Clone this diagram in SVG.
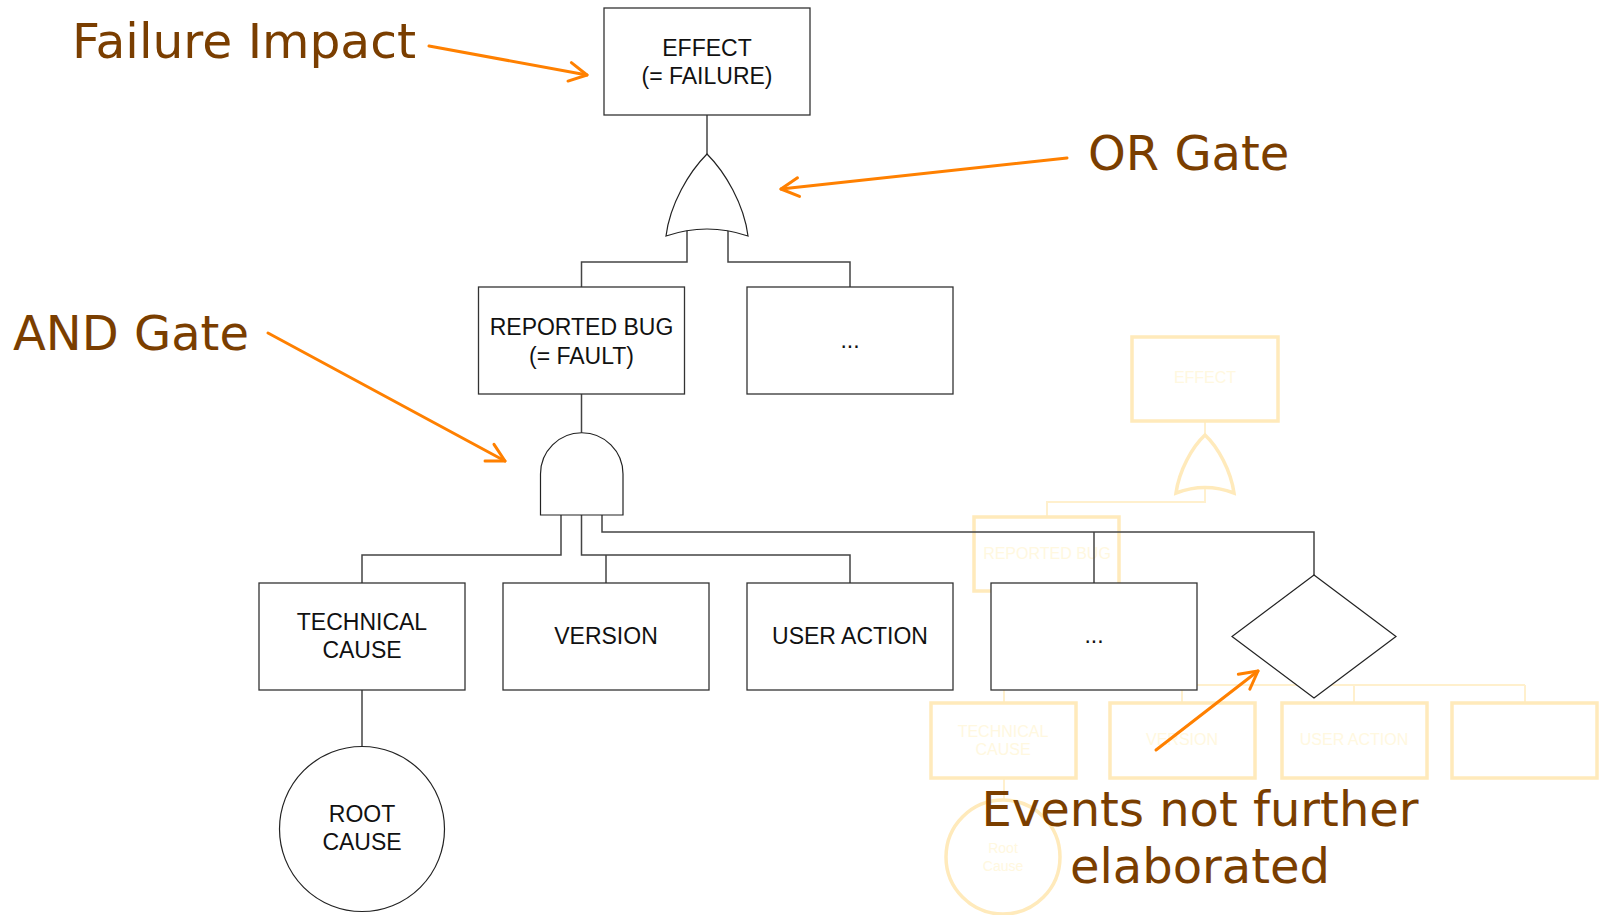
<svg xmlns="http://www.w3.org/2000/svg" width="1602" height="915" viewBox="0 0 1602 915">
<style>
.box{fill:#fff;stroke:#333;stroke-width:1.3}
.gate{fill:#fff;stroke:#222;stroke-width:1.2}
.con{fill:none;stroke:#444;stroke-width:1.5}
.t{font-family:"Liberation Sans",Arial,sans-serif;font-size:23px;fill:#111;text-anchor:middle}
.lbl{font-family:"DejaVu Sans",Verdana,sans-serif;font-size:48px;fill:#7a3e00}
.arr{fill:none;stroke:#ff8000;stroke-width:3;stroke-linecap:round;marker-end:url(#ah)}
.fbox{fill:none;stroke:#ffeabb;stroke-width:3.5}
.fcon{fill:none;stroke:#fff0cd;stroke-width:2}
.ft{font-family:"Liberation Sans",Arial,sans-serif;font-size:16px;fill:#fff8e0;text-anchor:middle}
</style>
<defs>
<marker id="ah" viewBox="-20 -12 24 24" refX="0" refY="0" markerWidth="24" markerHeight="24" markerUnits="userSpaceOnUse" orient="auto" overflow="visible">
<path d="M-17.6,-9.4 L0,0 L-17.6,9.4" fill="none" stroke="#ff8000" stroke-width="3" stroke-linecap="round" stroke-linejoin="round"/>
</marker>
</defs>
<rect width="1602" height="915" fill="#fff"/>

<g id="faint-tree">
<path class="fcon" d="M1205,421 V435 M1205,488 V502 H1047 V517 M1004,685 H1525 M1004,685 V703 M1182,685 V703 M1354,685 V703 M1525,685 V703 M1004,778 V800"/>
<rect class="fbox" x="1132" y="337" width="146" height="84"/>
<text class="ft" x="1205" y="383">EFFECT</text>
<path class="fbox" d="M1176,493 C1179,471 1192,447 1205,435 C1218,447 1231,471 1234,493 Q1205,482 1176,493 Z"/>
<rect class="fbox" x="974" y="517" width="145" height="74"/>
<text class="ft" x="1047" y="559">REPORTED BUG</text>
<rect class="fbox" x="931" y="703" width="145" height="75"/>
<text class="ft" x="1003" y="737">TECHNICAL</text>
<text class="ft" x="1003" y="755">CAUSE</text>
<rect class="fbox" x="1110" y="703" width="145" height="75"/>
<text class="ft" x="1182" y="745">VERSION</text>
<rect class="fbox" x="1282" y="703" width="145" height="75"/>
<text class="ft" x="1354" y="745">USER ACTION</text>
<rect class="fbox" x="1452" y="703" width="145" height="75"/>
<circle class="fbox" cx="1003" cy="857" r="57"/>
<text class="ft" x="1003" y="853" style="font-size:14px">Root</text>
<text class="ft" x="1003" y="871" style="font-size:14px">Cause</text>
</g>

<g id="connectors">
<path class="con" d="M707,115 V154"/>
<path class="con" d="M687,228 V262 H581.5 V287"/>
<path class="con" d="M728,228 V262 H850 V287"/>
<path class="con" d="M581.5,394 V433"/>
<path class="con" d="M561,515 V555 H362 V583"/>
<path class="con" d="M581.5,515 V555 H850 V583 M606,555 V583"/>
<path class="con" d="M602,515 V532 H1314 V575 M1094,532 V583"/>
<path class="con" d="M362,690 V747"/>
</g>

<g id="effect">
<rect class="box" x="604" y="8" width="206" height="107"/>
<text class="t" x="707" y="55.5">EFFECT</text>
<text class="t" x="707" y="83.5">(= FAILURE)</text>
</g>
<g id="or-gate">
<path class="gate" d="M666,236 C670,204 689,172 707,154 C725,172 744,204 748,236 Q707,222 666,236 Z"/>
</g>
<g id="reported-bug">
<rect class="box" x="478.5" y="287" width="206" height="107"/>
<text class="t" x="581.5" y="335">REPORTED BUG</text>
<text class="t" x="581.5" y="363.5">(= FAULT)</text>
</g>
<g id="other-fault">
<rect class="box" x="747" y="287" width="206" height="107"/>
<text class="t" x="850" y="348">...</text>
</g>
<g id="and-gate">
<path class="gate" d="M540.5,515 V474 A41.25,41.25 0 0 1 623,474 V515 Z"/>
</g>
<g id="technical-cause">
<rect class="box" x="259" y="583" width="206" height="107"/>
<text class="t" x="362" y="629.5">TECHNICAL</text>
<text class="t" x="362" y="657.5">CAUSE</text>
</g>
<g id="version">
<rect class="box" x="503" y="583" width="206" height="107"/>
<text class="t" x="606" y="643.5">VERSION</text>
</g>
<g id="user-action">
<rect class="box" x="747" y="583" width="206" height="107"/>
<text class="t" x="850" y="643.5">USER ACTION</text>
</g>
<g id="other-cause">
<rect class="box" x="991" y="583" width="206" height="107"/>
<text class="t" x="1094" y="643">...</text>
</g>
<g id="undeveloped-event">
<path class="gate" d="M1314,575 L1396,636.5 L1314,698 L1232,636.5 Z"/>
</g>
<g id="root-cause">
<circle class="gate" cx="362" cy="829" r="82.5"/>
<text class="t" x="362" y="822">ROOT</text>
<text class="t" x="362" y="850">CAUSE</text>
</g>

<g id="annotations">
<text class="lbl" x="72" y="58" textLength="344" lengthAdjust="spacingAndGlyphs">Failure Impact</text>
<path class="arr" d="M429,46 L587,75"/>
<text class="lbl" x="1088" y="170">OR Gate</text>
<path class="arr" d="M1067,158 L781,189"/>
<text class="lbl" x="13" y="350">AND Gate</text>
<path class="arr" d="M268,333 L505,461"/>
<text class="lbl" x="1200" y="826" text-anchor="middle">Events not further</text>
<text class="lbl" x="1200" y="883" text-anchor="middle">elaborated</text>
<path class="arr" d="M1156,750 L1258,671"/>
</g>
</svg>
